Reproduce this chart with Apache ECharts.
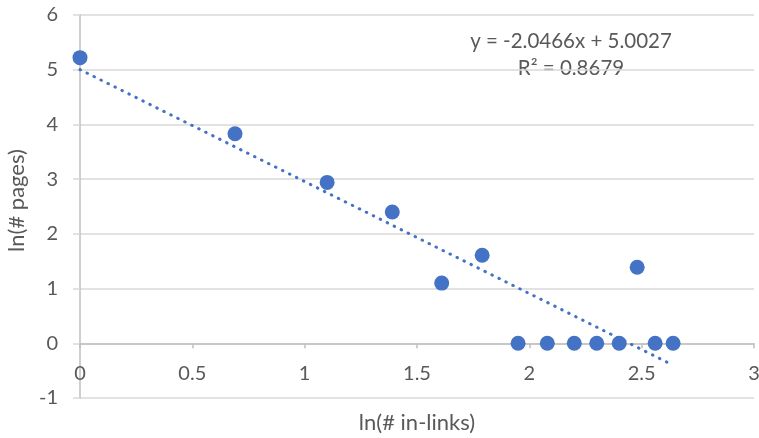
<!DOCTYPE html>
<html>
<head>
<meta charset="utf-8">
<script src="https://cdn.jsdelivr.net/npm/echarts@6/dist/echarts.min.js"></script>
<style>html,body{margin:0;padding:0;background:#fff}#c{width:759px;height:438px}</style>
</head>
<body>
<div id="c"></div>
<script>
const xValues = [0, 0.69, 1.10, 1.39, 1.61, 1.79, 1.95, 2.08, 2.20, 2.30, 2.40, 2.48, 2.56, 2.64];
const yValues = [5.22, 3.83, 2.94, 2.40, 1.10, 1.61, 0, 0, 0, 0, 0, 1.39, 0, 0];
const trendSlope = -2.0466;
const trendIntercept = 5.0027;
const equationText = 'y = -2.0466x + 5.0027';
const r2Text = 'R² = 0.8679';
const xTitle = 'ln(# in-links)';
const yTitle = 'ln(# pages)';

const FONT = 'Lato';
const TXT = '#595959';
const BLUE = '#4472C4';

const points = xValues.map((x, i) => [x, yValues[i]]);
const xMin = Math.min(...xValues), xMax = Math.max(...xValues);
const trend = [[xMin, trendSlope * xMin + trendIntercept], [xMax, trendSlope * xMax + trendIntercept]];

const GRID = {left: 80, right: 5, top: 15, bottom: 40};
const Y_MIN = -1, Y_MAX = 6;
const plotH = 438 - GRID.top - GRID.bottom;
const zeroOffset = -plotH * (0 - Y_MIN) / (Y_MAX - Y_MIN);

const chart = echarts.init(document.getElementById('c'), null, {renderer: 'canvas'});
chart.setOption({
  animation: false,
  backgroundColor: '#fff',
  textStyle: {fontFamily: FONT},
  grid: Object.assign({containLabel: false, outerBoundsMode: 'none'}, GRID),
  xAxis: {
    type: 'value', min: 0, max: 3, interval: 0.5,
    position: 'bottom', offset: zeroOffset,
    name: xTitle, nameLocation: 'middle', nameGap: 69,
    nameTextStyle: {fontFamily: FONT, fontSize: 22, color: TXT},
    axisLine: {show: true, onZero: false, lineStyle: {color: '#bfbfbf', width: 1.5}},
    axisTick: {show: true, length: 5, inside: false, lineStyle: {color: '#bfbfbf', width: 1.5}},
    axisLabel: {fontFamily: FONT, fontSize: 20, color: TXT, margin: 20},
    splitLine: {show: false}
  },
  yAxis: {
    type: 'value', min: Y_MIN, max: Y_MAX, interval: 1,
    name: yTitle, nameLocation: 'middle', nameGap: 50, nameRotate: 90,
    nameTextStyle: {fontFamily: FONT, fontSize: 22, color: TXT, padding: [0, 0, 0, 12]},
    axisLine: {show: true, onZero: false, lineStyle: {color: '#bfbfbf', width: 1.5}},
    axisTick: {show: true, length: 7, lineStyle: {color: '#d9d9d9', width: 1.5}},
    axisLabel: {fontFamily: FONT, fontSize: 20, color: TXT, margin: 22},
    splitLine: {show: true, lineStyle: {color: '#d9d9d9', width: 1.5}}
  },
  graphic: [
    {type: 'text', x: 571, y: 41, style: {text: equationText, font: '20.5px ' + FONT, fill: TXT, textAlign: 'center', textVerticalAlign: 'middle'}},
    {type: 'text', x: 571, y: 68, style: {text: r2Text, font: '20.5px ' + FONT, fill: TXT, textAlign: 'center', textVerticalAlign: 'middle'}}
  ],
  series: [
    {
      type: 'line', data: trend, symbol: 'none', z: 1,
      lineStyle: {color: BLUE, width: 3, type: [0.5, 7.3], cap: 'round'}
    },
    {
      type: 'scatter', data: points, symbol: 'circle', symbolSize: 15, z: 3,
      itemStyle: {color: BLUE, opacity: 1}
    }
  ]
});
</script>
</body>
</html>
